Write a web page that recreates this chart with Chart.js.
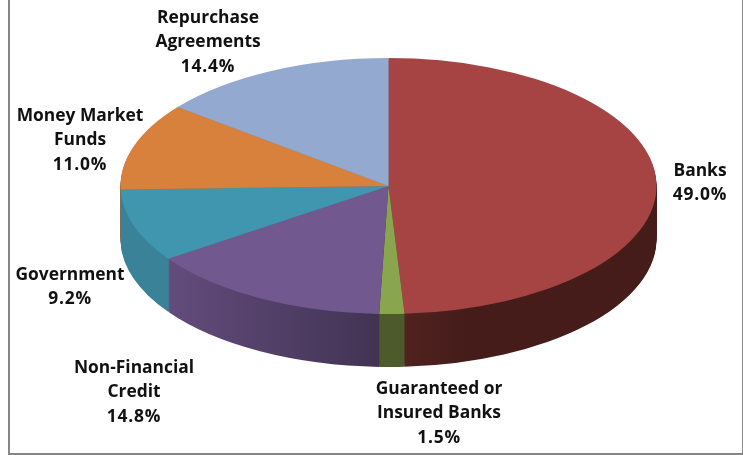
<!DOCTYPE html>
<html>
<head>
<meta charset="utf-8">
<title>Funding sources</title>
<script src="https://cdn.jsdelivr.net/npm/chart.js@4/dist/chart.umd.js"></script>
<style>
  html, body { margin: 0; padding: 0; background: #fff; }
  #stage { position: relative; width: 743px; height: 455px; overflow: hidden; }
  canvas { position: absolute; left: 0; top: 0; }
  #frame {
    position: absolute; left: 8px; top: -4px; width: 732px; height: 455px;
    border: 2px solid #868686; box-sizing: content-box;
  }
</style>
</head>
<body>
<div id="stage">
  <div id="frame"></div>
  <canvas id="pie" width="743" height="455"></canvas>
</div>
<script>
// Slices, clockwise from twelve o'clock
const categories = [
  ['Banks'],
  ['Guaranteed or', 'Insured Banks'],
  ['Non-Financial', 'Credit'],
  ['Government'],
  ['Money Market', 'Funds'],
  ['Repurchase', 'Agreements']
];
const shares = [49.0, 1.5, 14.8, 9.2, 11.0, 14.4];
const topColors = ['#A54442', '#89A54E', '#71588F', '#4096AE', '#D8813D', '#93A9CF'];
// Rim shading per slice, left to right: [position, colour] stops
const rimStops = [
  [[0, '#532321'], [0.3, '#451C1A'], [1, '#451C1A']],
  [[0, '#4D5A2C'], [1, '#4D5A2C']],
  [[0, '#624C7C'], [1, '#423353']],
  [[0, '#3A8298'], [1, '#3A8298']],
  [[0, '#A85F28'], [1, '#A85F28']],
  [[0, '#6E81A3'], [1, '#6E81A3']]
];

// Label placement: centre x and first baseline y
const labelAnchors = [
  [700, 176], [439, 394], [134, 373], [70, 280], [80, 121], [208, 23]
];
const labelLineHeight = 24.3;
const labelFont = "700 17.4px 'Open Sans'";

// Tilted-disc geometry
const centerX = 388.5;
const centerY = 186;
const radiusX = 268;
const radiusY = 128;
const rimDepth = 53;
const stretch = radiusX / radiusY;

const tiltedDisc = {
  id: 'tiltedDisc',
  beforeDatasetsDraw(chart) {
    const ctx = chart.ctx;
    const arcs = chart.getDatasetMeta(0).data;
    ctx.save();
    ctx.translate(centerX, 0);
    ctx.scale(stretch, 1);
    ctx.translate(-centerX, 0);

    // One gradient per slice, spanning the part of the rim it shows
    const rimFills = arcs.map((arc, i) => {
      const xs = [Math.cos(arc.startAngle), Math.cos(arc.endAngle)];
      if (arc.startAngle < 0 && arc.endAngle > 0) xs.push(1);
      if (arc.startAngle < Math.PI && arc.endAngle > Math.PI) xs.push(-1);
      const r = arc.outerRadius;
      const g = ctx.createLinearGradient(arc.x + r * Math.min(...xs), 0, arc.x + r * Math.max(...xs), 0);
      rimStops[i].forEach(([p, c]) => g.addColorStop(p, c));
      return g;
    });

    // Stack shifted copies from the deepest upward so the rim reads as a solid wall
    for (let dy = rimDepth; dy >= 1; dy--) {
      ctx.save();
      ctx.translate(0, dy);
      arcs.forEach((arc, i) => {
        const own = arc.options;
        const rimOptions = Object.create(own);
        Object.defineProperty(rimOptions, 'backgroundColor', { value: rimFills[i] });
        arc.options = rimOptions;
        arc.draw(ctx);
        arc.options = own;
      });
      ctx.restore();
    }
    // The transform stays active for the top faces drawn next
  },
  afterDatasetsDraw(chart) {
    chart.ctx.restore();
  },
  afterDraw(chart) {
    const ctx = chart.ctx;
    ctx.save();
    ctx.font = labelFont;
    ctx.fillStyle = '#111111';
    ctx.textAlign = 'center';
    ctx.textBaseline = 'alphabetic';
    categories.forEach((lines, i) => {
      const [x, y] = labelAnchors[i];
      ctx.letterSpacing = '0px';
      lines.forEach((t, n) => ctx.fillText(t, x, y + n * labelLineHeight));
      // Percentages run a little wider than the names
      ctx.letterSpacing = '0.8px';
      ctx.fillText(shares[i].toFixed(1) + '%', x, y + lines.length * labelLineHeight);
    });
    ctx.restore();
  }
};

function drawChart() {
  new Chart(document.getElementById('pie'), {
    type: 'pie',
    data: {
      labels: categories.map(l => l.join(' ')),
      datasets: [{
        data: shares,
        backgroundColor: topColors,
        borderWidth: 0,
        clip: false
      }]
    },
    options: {
      responsive: false,
      animation: false,
      events: [],
      layout: {
        padding: {
          left: centerX - radiusY,
          right: 743 - centerX - radiusY,
          top: centerY - radiusY,
          bottom: 455 - centerY - radiusY
        }
      },
      plugins: { legend: { display: false }, tooltip: { enabled: false } }
    },
    plugins: [tiltedDisc]
  });
}
drawChart();
</script>
</body>
</html>
